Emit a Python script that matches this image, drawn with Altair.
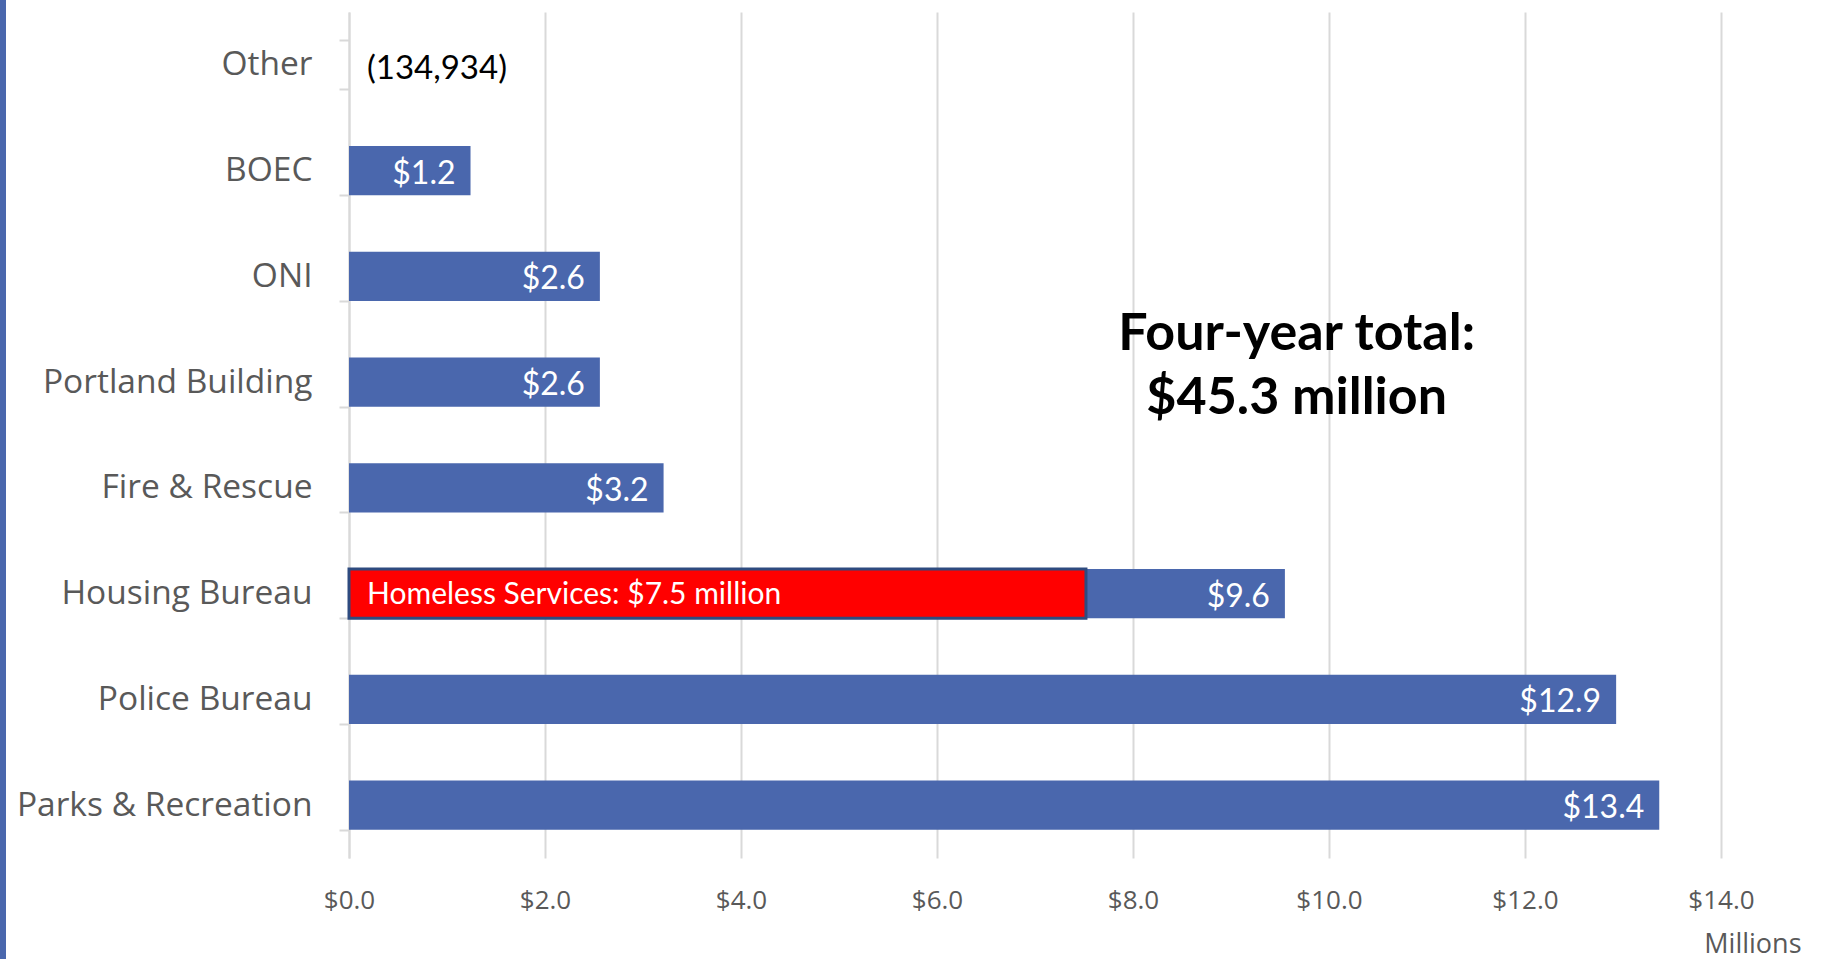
import altair as alt
import pandas as pd

categories = ["Other", "BOEC", "ONI", "Portland Building", "Fire & Rescue",
              "Housing Bureau", "Police Bureau", "Parks & Recreation"]
values = [-0.134934, 1.24, 2.56, 2.56, 3.21, 9.55, 12.93, 13.37]
value_labels = ["(134,934)", "$1.2", "$2.6", "$2.6", "$3.2", "$9.6", "$12.9", "$13.4"]

highlight_category = ["Housing Bureau"]
highlight_value = [7.52]
highlight_label = ["Homeless Services: $7.5 million"]

total_text = ["Four-year total:", "$45.3 million"]
total_x = [9.67]
total_cat = ["Portland Building"]

x_ticks = [0, 2, 4, 6, 8, 10, 12, 14]

BLUE = "#4A67AD"
RED = "#FF0000"
GRID = "#D9D9D9"
GRAY = "#595959"

df = pd.DataFrame({"cat": categories, "val": values, "lab": value_labels})
pos = df[df["val"] > 0]
neg = df[df["val"] <= 0]
hl = pd.DataFrame({"cat": highlight_category, "val": highlight_value, "lab": highlight_label})
tot = pd.DataFrame({"cat": total_cat, "x": total_x, "t": [total_text]})

yscale = alt.Scale(domain=categories, paddingInner=0.535, paddingOuter=0.2675)
xscale = alt.Scale(domain=[0, 14], nice=False, zero=True)

y_enc = alt.Y("cat:N", scale=yscale, sort=categories, title=None,
              axis=alt.Axis(domain=True, domainColor=GRID, domainWidth=2,
                            ticks=True, tickBand="extent", tickColor=GRID,
                            tickSize=10, tickWidth=2,
                            labelFont="Open Sans", labelFontSize=33.5,
                            labelColor=GRAY, labelPadding=27,
                            labelLimit=400, grid=False))

x_axis = alt.Axis(values=x_ticks, format="$.1f", grid=True, gridColor=GRID,
                  gridWidth=2, domain=False, ticks=False, labelFlush=False,
                  labelFont="Open Sans", labelFontSize=26, labelColor=GRAY,
                  labelPadding=29, title="Millions", titleFont="Open Sans",
                  titleFontSize=27, titleFontWeight="normal", titleColor=GRAY,
                  titleAlign="right", titleBaseline="middle",
                  titleX=1452, titleY=86, titleAnchor="end")

bars = alt.Chart(pos).mark_bar(color=BLUE).encode(
    x=alt.X("val:Q", scale=xscale, axis=x_axis),
    y=y_enc,
)

neg_bars = alt.Chart(neg).mark_bar(color=BLUE, clip=True).encode(
    x=alt.X("val:Q", scale=xscale),
    y=alt.Y("cat:N", scale=yscale, sort=categories),
)

red = alt.Chart(hl).mark_bar(color=RED, stroke="#2E4B7F", strokeWidth=3).encode(
    x=alt.X("val:Q", scale=xscale),
    y=alt.Y("cat:N", scale=yscale, sort=categories),
)

bar_labels = alt.Chart(pos).mark_text(
    align="right", baseline="middle", dx=-15, dy=3, color="white",
    font="Lato", fontSize=32).encode(
    x=alt.X("val:Q", scale=xscale),
    y=alt.Y("cat:N", scale=yscale, sort=categories),
    text="lab:N",
)

neg_labels = alt.Chart(neg).mark_text(
    align="left", baseline="middle", dx=18, dy=4, color="black",
    font="Lato", fontSize=33).encode(
    x=alt.datum(0),
    y=alt.Y("cat:N", scale=yscale, sort=categories),
    text="lab:N",
)

red_label = alt.Chart(hl).mark_text(
    align="left", baseline="middle", dx=18, dy=1, color="white",
    font="Lato", fontSize=30).encode(
    x=alt.datum(0),
    y=alt.Y("cat:N", scale=yscale, sort=categories),
    text="lab:N",
)

total = alt.Chart(tot).mark_text(
    align="center", baseline="middle", dy=-48, color="black",
    font="Lato", fontSize=52, fontWeight="bold", lineHeight=64).encode(
    x=alt.X("x:Q", scale=xscale),
    y=alt.Y("cat:N", scale=yscale, sort=categories),
    text="t",
)

strip = alt.Chart(pd.DataFrame({"a": [0]})).mark_rect(color=BLUE, clip=False).encode(
    x=alt.value(-349), x2=alt.value(-343), y=alt.value(-12), y2=alt.value(947),
)

chart = alt.layer(bars, neg_bars, red, bar_labels, neg_labels, red_label, total, strip).properties(
    width=1372, height=846,
    autosize=alt.AutoSizeParams(type="none"),
    padding={"left": 349, "top": 12, "right": 109, "bottom": 101},
    background="white",
).configure_view(stroke=None)

chart.save("out.html", embed_options={"renderer": "svg", "actions": False})
